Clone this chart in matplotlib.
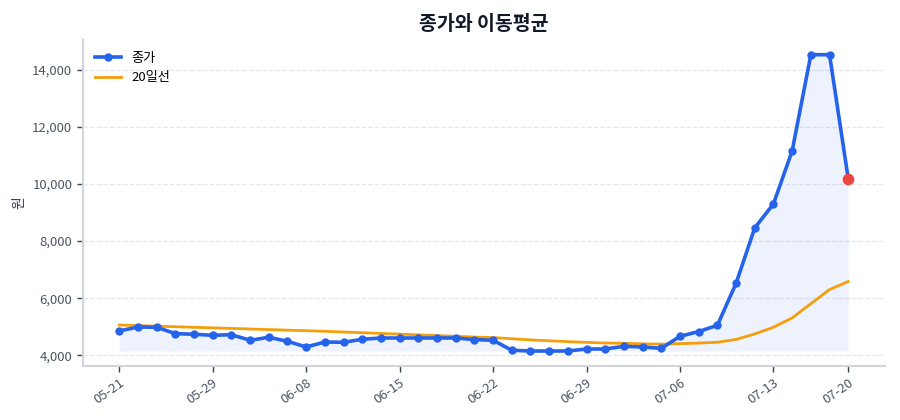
import matplotlib
matplotlib.use("Agg")
import matplotlib.pyplot as plt
from matplotlib.ticker import FuncFormatter

plt.rcParams['font.family'] = ['Noto Sans CJK KR', 'DejaVu Sans']

close = [4851, 4991, 4980, 4760, 4735, 4700, 4720, 4525, 4630, 4490,
         4290, 4466, 4455, 4560, 4606, 4606, 4606, 4606, 4606, 4550,
         4525, 4175, 4150, 4150, 4150, 4220, 4220, 4315, 4290, 4245,
         4665, 4830, 5050, 6522, 8460, 9300, 11157, 14520, 14520, 10176]
ma20 = [5060, 5040, 5020, 5000, 4980, 4960, 4940, 4920, 4900, 4880,
        4860, 4840, 4815, 4790, 4765, 4740, 4715, 4690, 4665, 4637,
        4620, 4580, 4538, 4508, 4478, 4454, 4429, 4419, 4402, 4390,
        4408, 4427, 4456, 4554, 4747, 4982, 5309, 5805, 6301, 6582]
tick_idx = [0, 5, 10, 15, 20, 25, 30, 35, 39]
tick_labels = ['05-21', '05-29', '06-08', '06-15', '06-22', '06-29', '07-06', '07-13', '07-20']

x = list(range(len(close)))
blue = '#2563eb'
orange = '#f59e0b'

fig = plt.figure(figsize=(9, 4.2), dpi=100)
ax = fig.add_axes([0.092, 0.129, 0.891, 0.776])

ax.fill_between(x, close, min(close), color=blue, alpha=0.08, linewidth=0)
ax.plot(x, close, color=blue, lw=2.6, marker='o', markersize=5, label='종가', zorder=3)
ax.plot(x, ma20, color=orange, lw=2, label='20일선', zorder=2)
ax.scatter([x[-1]], [close[-1]], s=55, color='#ef4444', zorder=4)

ax.set_xticks(tick_idx)
ax.set_xticklabels(tick_labels, rotation=35, ha='right', rotation_mode='anchor')
ax.yaxis.set_major_formatter(FuncFormatter(lambda v, p: f'{int(v):,}'))
ax.set_yticks([4000, 6000, 8000, 10000, 12000, 14000])
ax.margins(x=0.05, y=0.05)

ax.grid(axis='y', linestyle='--', color='#e5e7eb', linewidth=0.9)
ax.set_axisbelow(True)
for s in ['top', 'right']:
    ax.spines[s].set_visible(False)
for s in ['left', 'bottom']:
    ax.spines[s].set_color('#d1d5db')
    ax.spines[s].set_linewidth(1.5)
ax.tick_params(axis='both', labelcolor='#4b5563', color='#374151', labelsize=9.5, length=4, width=1)

ax.set_ylabel('원', color='#374151', fontsize=10)
ax.set_title('종가와 이동평균', fontsize=14, fontweight='bold', color='#111827', pad=7)

leg = ax.legend(loc='upper left', frameon=False, fontsize=9.5)

fig.savefig('out.png', dpi=100)
